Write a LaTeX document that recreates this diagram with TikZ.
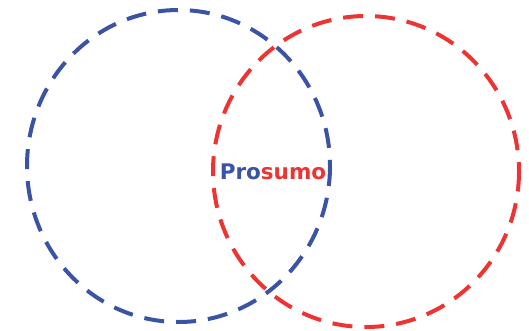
\documentclass[tikz,border=0pt]{standalone}
\usepackage{fontspec}
\setmainfont{DejaVu Sans}
\definecolor{cblue}{HTML}{3A53A4}
\definecolor{cred}{HTML}{EE3432}
\begin{document}
\begin{tikzpicture}[x=1pt,y=-1pt,
  ring/.style={line width=4pt, dash pattern=on 20pt off 12pt}]
\useasboundingbox (0,0) rectangle (529,330);
\draw[ring, cblue] (178.5,166) ellipse [x radius=151.5, y radius=156];
\draw[ring, cred] (366,171.5) ellipse [x radius=153, y radius=155.5];
\node[font=\bfseries\fontsize{21.5}{24}\selectfont, inner sep=0pt, anchor=base] (t) at (273,179) {\textcolor{cblue}{Pro}\textcolor{cred}{sumo}};
\end{tikzpicture}
\end{document}
